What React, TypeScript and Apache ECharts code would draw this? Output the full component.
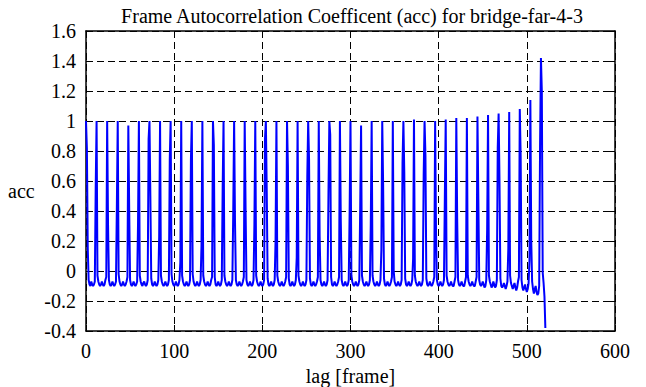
import React, { useEffect, useRef } from "react";
import * as echarts from "echarts";

// acc values for lag 0, 1, 2, ... (one row = 12 lags)
const acc: number[] = [
  1.00, 0.82, 0.15, -0.06, -0.09, -0.10, -0.07, -0.09, -0.10, -0.09, -0.07, 0.55,
  1.00, -0.03, -0.07, -0.09, -0.10, -0.09, -0.07, -0.09, -0.10, -0.09, -0.06, -0.04,
  1.00, 0.31, -0.06, -0.09, -0.10, -0.09, -0.07, -0.09, -0.10, -0.09, -0.07, 0.43,
  1.00, -0.02, -0.07, -0.09, -0.10, -0.09, -0.07, -0.09, -0.10, -0.09, -0.07, -0.04,
  0.97, 0.41, -0.06, -0.09, -0.10, -0.09, -0.07, -0.09, -0.10, -0.09, -0.07, 0.31,
  1.00, -0.03, -0.07, -0.09, -0.10, -0.08, -0.07, -0.09, -0.10, -0.09, -0.06, 0.88,
  1.00, 0.50, -0.05, -0.09, -0.10, -0.09, -0.07, -0.09, -0.10, -0.09, -0.06, 0.23,
  1.00, -0.03, -0.07, -0.09, -0.10, -0.09, -0.07, -0.09, -0.10, -0.09, -0.06, 0.74,
  1.00, -0.02, -0.07, -0.09, -0.10, -0.09, -0.07, -0.09, -0.10, -0.09, -0.06, 0.06,
  1.00, -0.03, -0.07, -0.09, -0.10, -0.09, -0.07, -0.09, -0.10, -0.09, -0.06, 0.74,
  1.00, -0.02, -0.07, -0.09, -0.10, -0.09, -0.07, -0.09, -0.10, -0.09, -0.06, 0.17,
  1.00, -0.03, -0.07, -0.09, -0.10, -0.09, -0.07, -0.09, -0.10, -0.09, -0.06, -0.04,
  1.00, 0.84, -0.04, -0.09, -0.10, -0.09, -0.07, -0.09, -0.10, -0.09, -0.06, 0.55,
  1.00, -0.03, -0.07, -0.09, -0.10, -0.09, -0.07, -0.09, -0.10, -0.09, -0.06, 0.39,
  1.00, 0.33, -0.06, -0.09, -0.10, -0.09, -0.07, -0.09, -0.10, -0.09, -0.07, -0.04,
  1.00, 0.42, -0.06, -0.09, -0.10, -0.09, -0.07, -0.09, -0.10, -0.09, -0.06, 0.31,
  1.00, -0.03, -0.07, -0.09, -0.10, -0.09, -0.07, -0.09, -0.10, -0.09, -0.06, 0.88,
  1.00, 0.53, -0.05, -0.09, -0.10, -0.09, -0.07, -0.09, -0.10, -0.09, -0.06, 0.20,
  1.00, -0.03, -0.07, -0.09, -0.10, -0.09, -0.07, -0.09, -0.10, -0.09, -0.07, -0.04,
  1.00, 0.70, -0.05, -0.09, -0.10, -0.09, -0.07, -0.09, -0.10, -0.09, -0.06, 0.09,
  1.00, -0.03, -0.07, -0.09, -0.10, -0.09, -0.07, -0.09, -0.10, -0.09, -0.06, 0.63,
  1.00, 0.74, -0.05, -0.09, -0.10, -0.09, -0.07, -0.09, -0.10, -0.09, -0.07, -0.04,
  1.00, 0.23, -0.06, -0.09, -0.10, -0.09, -0.07, -0.09, -0.10, -0.09, -0.06, 0.51,
  1.00, 0.91, -0.04, -0.09, -0.10, -0.09, -0.07, -0.09, -0.10, -0.09, -0.07, -0.04,
  1.00, 0.33, -0.06, -0.09, -0.10, -0.09, -0.07, -0.09, -0.10, -0.09, -0.06, 0.39,
  1.00, -0.03, -0.07, -0.09, -0.10, -0.09, -0.07, -0.09, -0.10, -0.09, -0.06, 0.42,
  0.97, -0.03, -0.07, -0.09, -0.10, -0.09, -0.07, -0.09, -0.10, -0.09, -0.06, 0.31,
  1.00, -0.03, -0.07, -0.09, -0.10, -0.09, -0.07, -0.09, -0.10, -0.09, -0.06, 0.14,
  1.00, 0.58, -0.05, -0.09, -0.10, -0.09, -0.07, -0.09, -0.10, -0.09, -0.07, -0.04,
  1.00, 0.00, -0.07, -0.09, -0.10, -0.09, -0.07, -0.09, -0.10, -0.09, -0.06, 0.72,
  1.00, 0.66, -0.05, -0.09, -0.10, -0.09, -0.07, -0.09, -0.10, -0.09, -0.06, 0.08,
  1.01, -0.03, -0.07, -0.09, -0.10, -0.09, -0.07, -0.09, -0.10, -0.09, -0.06, 0.64,
  1.00, 0.77, -0.05, -0.09, -0.10, -0.09, -0.07, -0.09, -0.10, -0.09, -0.07, -0.04,
  1.00, 0.26, -0.06, -0.09, -0.10, -0.09, -0.07, -0.09, -0.10, -0.09, -0.06, 0.49,
  1.01, -0.03, -0.07, -0.09, -0.10, -0.09, -0.07, -0.09, -0.10, -0.10, -0.07, -0.04,
  1.02, 0.35, -0.06, -0.09, -0.10, -0.09, -0.07, -0.09, -0.10, -0.10, -0.07, -0.04,
  1.02, -0.03, -0.07, -0.09, -0.10, -0.09, -0.07, -0.09, -0.10, -0.10, -0.07, -0.04,
  1.03, 0.48, -0.06, -0.09, -0.10, -0.09, -0.07, -0.09, -0.11, -0.10, -0.06, 0.28,
  1.04, -0.03, -0.07, -0.09, -0.11, -0.10, -0.07, -0.09, -0.11, -0.10, -0.06, 0.82,
  1.05, 0.60, -0.05, -0.10, -0.11, -0.10, -0.08, -0.10, -0.12, -0.10, -0.07, 0.15,
  1.06, -0.03, -0.08, -0.10, -0.12, -0.10, -0.08, -0.11, -0.13, -0.11, -0.07, -0.04,
  1.08, 0.77, -0.06, -0.11, -0.13, -0.11, -0.09, -0.12, -0.14, -0.12, -0.08, 0.07,
  1.14, 0.20, -0.07, -0.12, -0.15, -0.12, -0.10, -0.14, -0.16, -0.15, -0.10, 0.83,
  1.42, 1.20, -0.01, -0.08, -0.17, -0.38,
];

const titleText = "Frame Autocorrelation Coefficent (acc) for bridge-far-4-3";
const xName = "lag [frame]";
const yName = "acc";
const xRange = [0, 600];
const yRange = [-0.4, 1.6];
const xStep = 100;
const yStep = 0.2;

const FONT = "'Liberation Serif', 'Times New Roman', Times, serif";

export default function App() {
  const ref = useRef<HTMLDivElement>(null);
  useEffect(() => {
    if (!ref.current) return;
    const chart = echarts.init(ref.current, undefined, { renderer: "svg" });
    const data = acc.map((v, i) => [i, v]);
    const fmtY = (v: number) => String(Number(v.toFixed(1)));
    const tickStyle = { show: true, inside: true, length: 6, lineStyle: { color: "#000", width: 1 } };
    const lineStyle = { show: true, onZero: false, lineStyle: { color: "#000", width: 1.5 } };
    const split = { show: true, lineStyle: { color: "#000", width: 1, type: [7, 4] as any } };
    chart.setOption({
      animation: false,
      backgroundColor: "#fff",
      textStyle: { fontFamily: FONT },
      title: {
        text: titleText,
        left: 347,
        textAlign: "center",
        top: 1,
        textStyle: { fontFamily: FONT, fontSize: 20, fontWeight: "normal", color: "#000" },
      },
      grid: { left: 86, right: 31, top: 31, bottom: 56, containLabel: false, outerBoundsMode: "none" },
      xAxis: [
        {
          type: "value",
          min: xRange[0],
          max: xRange[1],
          interval: xStep,
          position: "bottom",
          axisLine: lineStyle,
          axisTick: tickStyle,
          splitLine: split,
          axisLabel: { color: "#000", fontFamily: FONT, fontSize: 20, margin: 10 },
          name: xName,
          nameLocation: "middle",
          nameGap: 32,
          nameTextStyle: { color: "#000", fontFamily: FONT, fontSize: 20 },
        },
        {
          type: "value",
          min: xRange[0],
          max: xRange[1],
          interval: xStep,
          position: "top",
          axisLine: lineStyle,
          axisTick: tickStyle,
          splitLine: { show: false },
          axisLabel: { show: false },
        },
      ],
      yAxis: [
        {
          type: "value",
          min: yRange[0],
          max: yRange[1],
          interval: yStep,
          position: "left",
          axisLine: lineStyle,
          axisTick: tickStyle,
          splitLine: split,
          axisLabel: { color: "#000", fontFamily: FONT, fontSize: 20, margin: 10, formatter: fmtY },
        },
        {
          type: "value",
          min: yRange[0],
          max: yRange[1],
          interval: yStep,
          position: "right",
          axisLine: lineStyle,
          axisTick: tickStyle,
          splitLine: { show: false },
          axisLabel: { show: false },
        },
      ],
      graphic: [
        {
          type: "text",
          left: 8,
          top: 181,
          style: { text: yName, fontFamily: FONT, fontSize: 20, fill: "#000" },
        },
      ],
      series: [
        {
          type: "line",
          data,
          showSymbol: false,
          symbol: "none",
          xAxisIndex: 0,
          yAxisIndex: 0,
          lineStyle: { color: "#0000ff", width: 2 },
          silent: true,
        },
      ],
    });
    return () => chart.dispose();
  }, []);
  return <div ref={ref} style={{ position: "fixed", left: 0, top: 0, width: 646, height: 387 }} />;
}
